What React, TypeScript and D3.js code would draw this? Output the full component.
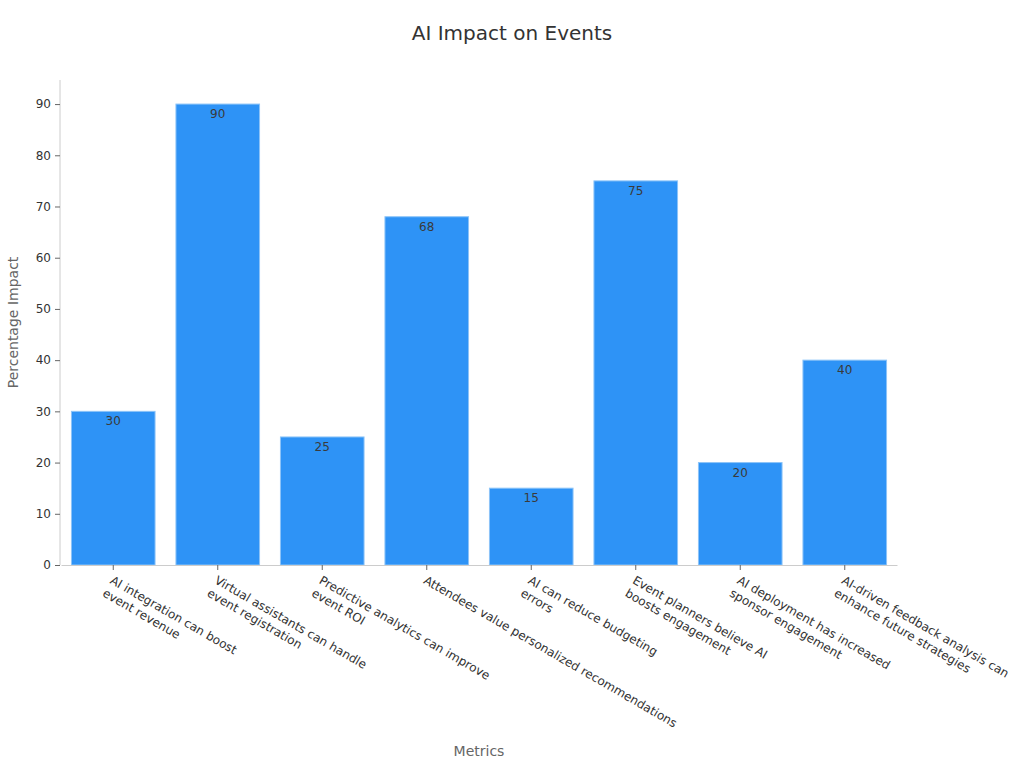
import React, { useRef, useEffect } from 'react';
import * as d3 from 'd3';

const categories = [
  'AI integration can boost\nevent revenue',
  'Virtual assistants can handle\nevent registration',
  'Predictive analytics can improve\nevent ROI',
  'Attendees value personalized recommendations',
  'AI can reduce budgeting\nerrors',
  'Event planners believe AI\nboosts engagement',
  'AI deployment has increased\nsponsor engagement',
  'AI-driven feedback analysis can\nenhance future strategies',
];
const values = [30, 90, 25, 68, 15, 75, 20, 40];
const yTicks = [0, 10, 20, 30, 40, 50, 60, 70, 80, 90];

const FONT = '"DejaVu Sans", Verdana, sans-serif';

export default function App() {
  const svgRef = useRef<SVGSVGElement>(null);

  useEffect(() => {
    if (!svgRef.current) return;
    const svg = d3.select(svgRef.current);
    svg.selectAll('*').remove();

    const W = 1024;
    const left = 61;
    const right = 897;
    const top = 80;
    const bottom = 565;

    const x = d3.scaleBand<string>()
      .domain(categories)
      .range([left, right])
      .paddingInner(0.2)
      .paddingOuter(0.1);

    const y = d3.scaleLinear().domain([0, 94.7]).range([bottom, top]);

    // title
    svg.append('text')
      .attr('x', W / 2)
      .attr('y', 40)
      .attr('text-anchor', 'middle')
      .attr('font-family', FONT)
      .attr('font-size', 20)
      .attr('fill', '#333')
      .text('AI Impact on Events');

    // bars
    svg.append('g')
      .selectAll('rect')
      .data(values)
      .enter()
      .append('rect')
      .attr('x', (_d, i) => x(categories[i]) || 0)
      .attr('y', d => y(d))
      .attr('width', x.bandwidth())
      .attr('height', d => y(0) - y(d))
      .attr('fill', '#2e93f6')
      .attr('stroke', '#8cc4f8')
      .attr('stroke-width', 1);

    // value labels
    svg.append('g')
      .selectAll('text')
      .data(values)
      .enter()
      .append('text')
      .attr('x', (_d, i) => (x(categories[i]) || 0) + x.bandwidth() / 2)
      .attr('y', d => y(d) + 14)
      .attr('text-anchor', 'middle')
      .attr('font-family', FONT)
      .attr('font-size', 12)
      .attr('fill', '#3a3a3a')
      .text(d => String(d));

    // y axis
    const yAxis = svg.append('g')
      .attr('transform', `translate(${left - 1},0)`)
      .call(d3.axisLeft(y).tickValues(yTicks).tickSize(5).tickPadding(4).tickSizeOuter(0));
    yAxis.select('.domain').attr('stroke', '#ccc').attr('d', `M0,${top}V${bottom}`);
    yAxis.selectAll('.tick line').attr('stroke', '#666');
    yAxis.selectAll('.tick text')
      .attr('font-family', FONT)
      .attr('font-size', 12)
      .attr('fill', '#333');

    // x axis
    const xAxis = svg.append('g')
      .attr('transform', `translate(0,${bottom})`)
      .call(d3.axisBottom(x).tickSize(5).tickSizeOuter(0).tickFormat(() => ''));
    xAxis.select('.domain').attr('stroke', '#ccc');
    xAxis.selectAll('.tick line').attr('stroke', '#666');

    // wrapped, rotated x labels
    const labels = svg.append('g');
    categories.forEach(c => {
      const cx = (x(c) || 0) + x.bandwidth() / 2;
      const t = labels.append('text')
        .attr('transform', `translate(${cx - 2},${bottom + 14}) rotate(30)`)
        .attr('font-family', FONT)
        .attr('font-size', 12)
        .attr('fill', '#333')
        .attr('text-anchor', 'start');
      c.split('\n').forEach((line, i) => {
        t.append('tspan')
          .attr('x', 0)
          .attr('dy', i === 0 ? '0.35em' : '1.25em')
          .text(line);
      });
    });

    // axis titles
    svg.append('text')
      .attr('transform', `translate(18,${(top + bottom) / 2}) rotate(-90)`)
      .attr('text-anchor', 'middle')
      .attr('font-family', FONT)
      .attr('font-size', 14)
      .attr('fill', '#666')
      .text('Percentage Impact');

    svg.append('text')
      .attr('x', (left + right) / 2)
      .attr('y', 756)
      .attr('text-anchor', 'middle')
      .attr('font-family', FONT)
      .attr('font-size', 14)
      .attr('fill', '#666')
      .text('Metrics');
  }, []);

  return (
    <svg
      ref={svgRef}
      width={1024}
      height={768}
      style={{ position: 'absolute', left: 0, top: 0, background: '#fff' }}
    />
  );
}
